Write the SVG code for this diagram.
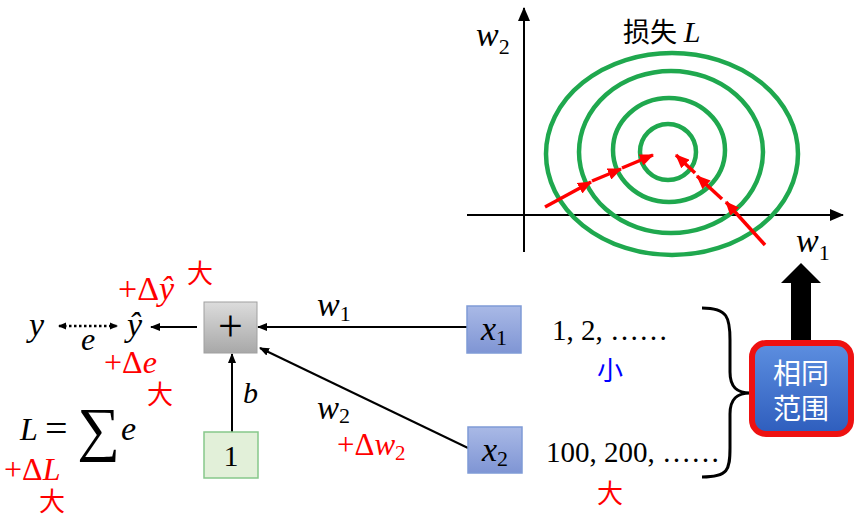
<svg xmlns="http://www.w3.org/2000/svg" width="864" height="516" viewBox="0 0 864 516">
<defs>
<style>
.m{font-family:"Liberation Serif","DejaVu Serif",serif;font-style:italic;fill:#000}
.n{font-family:"Liberation Serif","DejaVu Serif",serif;fill:#000}
.rd{font-family:"Liberation Serif","DejaVu Serif",serif;fill:#ff0000}
.cjk{font-family:"Liberation Sans","Noto Sans CJK SC",sans-serif}
.ln{stroke:#000;stroke-width:2;fill:none}
.ell{fill:none;stroke:#1fa84e;stroke-width:4.5}
.ra{stroke:#ff0000;stroke-width:3.5;fill:none}
</style>
<marker id="ah" markerWidth="10" markerHeight="10" refX="9" refY="5" orient="auto" markerUnits="userSpaceOnUse"><path d="M0,1 L10,5 L0,9 z" fill="#000"/></marker>
<marker id="ahs" markerWidth="8" markerHeight="8" refX="7" refY="4" orient="auto-start-reverse" markerUnits="userSpaceOnUse"><path d="M0,0.5 L8,4 L0,7.5 z" fill="#000"/></marker>
<marker id="ax" markerWidth="14" markerHeight="14" refX="13" refY="7" orient="auto" markerUnits="userSpaceOnUse"><path d="M0,1 L14,7 L0,13 z" fill="#000"/></marker>
<marker id="rh" markerWidth="14" markerHeight="12" refX="13" refY="6" orient="auto" markerUnits="userSpaceOnUse"><path d="M0,0 L14,6 L0,12 z" fill="#ff0000"/></marker>
<linearGradient id="gp" x1="0" y1="0" x2="0" y2="1"><stop offset="0" stop-color="#dcdcdc"/><stop offset="1" stop-color="#a8a8a8"/></linearGradient>
<linearGradient id="gx" x1="0" y1="0" x2="0" y2="1"><stop offset="0" stop-color="#a9b9e6"/><stop offset="1" stop-color="#7f95d4"/></linearGradient>
<linearGradient id="gb" x1="0" y1="0" x2="0" y2="1"><stop offset="0" stop-color="#5d8fe0"/><stop offset="1" stop-color="#2e5dbd"/></linearGradient>
</defs>

<!-- plot -->
<g id="plot">
<line class="ln" x1="524" y1="252" x2="524" y2="8" stroke-width="3" marker-end="url(#ax)"/>
<line class="ln" x1="467" y1="215" x2="843" y2="215" stroke-width="3" marker-end="url(#ax)"/>
<ellipse class="ell" cx="672" cy="154" rx="126" ry="101"/>
<ellipse class="ell" cx="671" cy="152" rx="92" ry="81"/>
<ellipse class="ell" cx="669" cy="150" rx="56" ry="52"/>
<ellipse class="ell" cx="668" cy="152" rx="28" ry="28"/>
<line class="ra" x1="545" y1="207" x2="591" y2="182" marker-end="url(#rh)"/>
<line class="ra" x1="592" y1="181" x2="621" y2="169" marker-end="url(#rh)"/>
<line class="ra" x1="622" y1="168" x2="653" y2="155" marker-end="url(#rh)"/>
<line class="ra" x1="765" y1="245" x2="726" y2="202" marker-end="url(#rh)"/>
<line class="ra" x1="722" y1="199" x2="697" y2="176" marker-end="url(#rh)"/>
<line class="ra" x1="695" y1="173" x2="676" y2="155" marker-end="url(#rh)"/>
<text class="m" x="476" y="46" font-size="34">w<tspan class="n" font-style="normal" font-size="22" dy="8">2</tspan></text>
<text class="n" x="623" y="42" font-size="27"><tspan class="cjk">损失</tspan> <tspan font-style="italic" font-size="30">L</tspan></text>
<text class="m" x="796" y="252" font-size="34">w<tspan class="n" font-style="normal" font-size="22" dy="8">1</tspan></text>
</g>

<!-- big arrow -->
<g id="bigArrow">
<polygon points="791,345 791,283 781,283 801,263 821,283 811,283 811,345" fill="#000"/>
</g>

<!-- connectors -->
<g id="connectors">
<line class="ln" x1="467" y1="327" x2="258" y2="327" marker-end="url(#ah)"/>
<line class="ln" x1="468" y1="448" x2="260" y2="348" marker-end="url(#ah)"/>
<line class="ln" x1="232" y1="432" x2="232" y2="354" marker-end="url(#ah)"/>
<line class="ln" x1="197" y1="327" x2="151" y2="327" marker-end="url(#ah)"/>
<line x1="59" y1="326" x2="117" y2="326" stroke="#000" stroke-width="2.5" stroke-dasharray="2.5,2.5" marker-start="url(#ahs)" marker-end="url(#ahs)"/>
<path d="M702,308 C728,308 730,318 730,340 L730,372 C730,388 738,393 750,393 C738,393 730,398 730,414 L730,448 C730,470 728,477 702,477" fill="none" stroke="#000" stroke-width="3"/>
</g>

<!-- labels on connectors -->
<text class="m" x="317" y="316" font-size="34">w<tspan class="n" font-style="normal" font-size="22" dy="5">1</tspan></text>
<text class="m" x="317" y="419" font-size="33">w<tspan class="n" font-style="normal" font-size="22" dy="4">2</tspan></text>
<text class="rd" x="337" y="455" font-size="31">+Δ<tspan font-style="italic">w</tspan><tspan font-size="21" dy="5">2</tspan></text>
<text class="m" x="243" y="403" font-size="30">b</text>

<g id="plus">
<rect x="204" y="302" width="53" height="51" fill="url(#gp)" stroke="#a0a0a0" stroke-width="1"/>
<text class="n" x="230.5" y="341" font-size="44" text-anchor="middle">+</text>
</g>

<g id="one">
<rect x="204" y="432" width="54" height="46" fill="#e2f0d9" stroke="#86c88a" stroke-width="1.5"/>
<text class="n" x="231" y="466" font-size="30" text-anchor="middle">1</text>
</g>

<g id="x1">
<rect x="467" y="306" width="54" height="47" fill="url(#gx)" stroke="#7f9bd6" stroke-width="1.5"/>
<text class="m" x="481" y="340" font-size="34">x<tspan class="n" font-style="normal" font-size="22" dy="5">1</tspan></text>
</g>

<g id="x2">
<rect x="468" y="427" width="54" height="46" fill="url(#gx)" stroke="#7f9bd6" stroke-width="1.5"/>
<text class="m" x="482" y="461" font-size="34">x<tspan class="n" font-style="normal" font-size="22" dy="5">2</tspan></text>
</g>

<g id="values">
<text class="n" x="552" y="340" font-size="29">1, 2, ……</text>
<text class="cjk" x="610" y="380" font-size="26" text-anchor="middle" fill="#0000ff">小</text>
<text class="n" x="546" y="462" font-size="29" textLength="174">100, 200, ……</text>
<text class="cjk" x="610" y="503" font-size="26" text-anchor="middle" fill="#ff0000">大</text>
</g>

<g id="sameRange">
<rect x="752" y="343" width="99" height="91" rx="14" fill="url(#gb)" stroke="#ee1111" stroke-width="6"/>
<text class="cjk" x="801" y="384" font-size="28" text-anchor="middle" fill="#fff">相同</text>
<text class="cjk" x="801" y="419" font-size="28" text-anchor="middle" fill="#fff">范围</text>
</g>

<g id="yhat">
<text class="m" x="127" y="336" font-size="34">ŷ</text>
<text class="rd" x="118" y="300" font-size="34">+Δ<tspan font-style="italic">ŷ</tspan></text>
<text class="cjk" x="200" y="283" font-size="26" text-anchor="middle" fill="#ff0000">大</text>
</g>

<g id="y">
<text class="m" x="29" y="336" font-size="34">y</text>
<text class="m" x="81" y="350" font-size="32">e</text>
<text class="rd" x="104" y="373" font-size="32">+Δ<tspan font-style="italic">e</tspan></text>
<text class="cjk" x="160" y="404" font-size="26" text-anchor="middle" fill="#ff0000">大</text>
</g>

<g id="loss">
<text class="m" x="20" y="440" font-size="32">L</text>
<text class="n" x="45" y="442" font-size="40">=</text>
<text class="n" x="77" y="449" font-size="60">∑</text>
<text class="m" x="121" y="440" font-size="34">e</text>
<text class="rd" x="4" y="480" font-size="32">+Δ<tspan font-style="italic">L</tspan></text>
<text class="cjk" x="52" y="511" font-size="26" text-anchor="middle" fill="#ff0000">大</text>
</g>
</svg>
